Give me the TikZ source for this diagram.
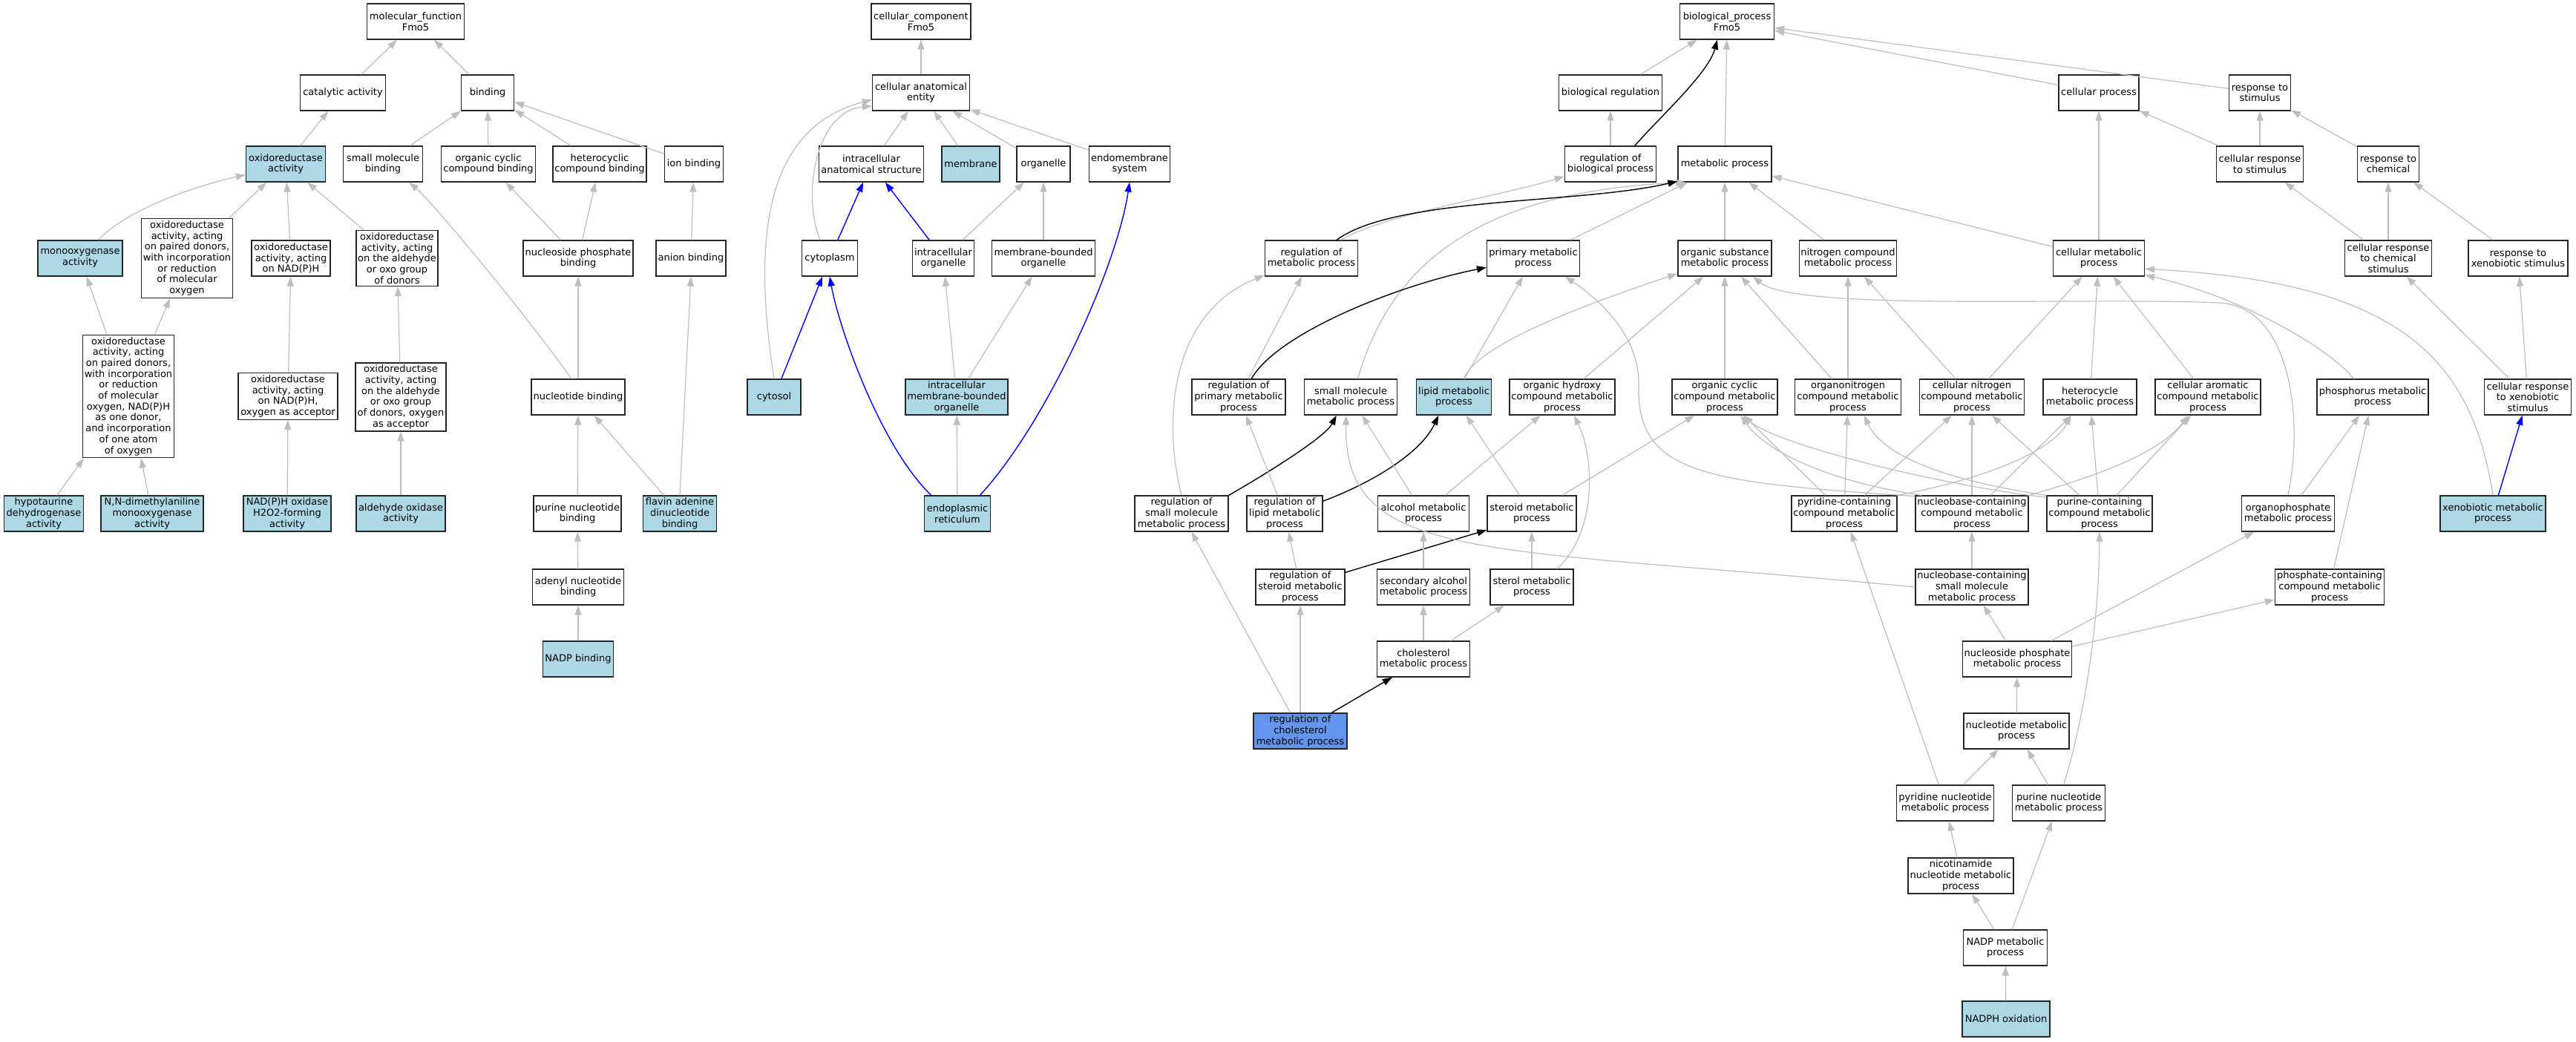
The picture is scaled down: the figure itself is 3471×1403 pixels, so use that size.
\documentclass[tikz,border=0pt]{standalone}
\usepackage{fontspec}
\setmainfont{DejaVu Sans}
\usepackage{tikz}
\usetikzlibrary{arrows.meta}
\definecolor{isagray}{HTML}{BEBEBE}
\definecolor{annotblue}{HTML}{ADD8E6}
\definecolor{queryblue}{HTML}{6495ED}
\newcommand{\gofont}{\fontsize{13pt}{14.7pt}\selectfont}
\tikzstyle{term} = [rectangle, draw=black!85, line width=1.3pt, fill=white, minimum height=48pt, inner xsep=1pt, inner ysep=3pt, align=center, text=black]
\tikzstyle{annot} = [term, fill=annotblue]
\tikzstyle{query} = [term, fill=queryblue]
\tikzstyle{isa} = [draw=isagray, line width=1.2pt, -{Triangle[length=13pt,width=9pt]}, isagray]
\tikzstyle{reg} = [draw=black, line width=1.4pt, -{Triangle[length=13pt,width=9pt]}, black]
\tikzstyle{partof} = [draw=blue, line width=1.4pt, -{Triangle[length=13pt,width=9pt]}, blue]

\begin{document}
\begin{tikzpicture}[x=1pt, y=-1pt, font=\gofont]

		\useasboundingbox (0,0) rectangle (3471,1403);
		\fill[white] (0,0) rectangle (3471,1403);

		% molecular function
		\node (mf) [term, minimum width=131pt] at (560,29) {molecular\_function\\Fmo5};
		\node (cat) [term, minimum width=115pt] at (462,125) {catalytic activity};
		\node (bind) [term, minimum width=71pt] at (657,125) {binding};
		\node (oxr) [annot, minimum width=107pt] at (385,221) {oxidoreductase\\activity};
		\node (smb) [term, minimum width=107pt] at (516,221) {small molecule\\binding};
		\node (ocb) [term, minimum width=127pt] at (658,221) {organic cyclic\\compound binding};
		\node (hcb) [term, minimum width=126pt] at (808,221) {heterocyclic\\compound binding};
		\node (ionb) [term, minimum width=79pt] at (935,221) {ion binding};
		\node (mono) [annot, minimum width=114pt] at (108,348) {monooxygenase\\activity};
		\node (oxpd) [term, minimum width=123pt] at (252,348) {oxidoreductase\\activity, acting\\on paired donors,\\with incorporation\\or reduction\\of molecular\\oxygen};
		\node (oxnadph) [term, minimum width=106pt] at (392,348) {oxidoreductase\\activity, acting\\on NAD(P)H};
		\node (oxald) [term, minimum width=110pt] at (535,348) {oxidoreductase\\activity, acting\\on the aldehyde\\or oxo group\\of donors};
		\node (npb) [term, minimum width=148pt] at (779,348) {nucleoside phosphate\\binding};
		\node (anb) [term, minimum width=94pt] at (931,348) {anion binding};
		\node (oxpd2) [term, minimum width=123pt] at (173,534) {oxidoreductase\\activity, acting\\on paired donors,\\with incorporation\\or reduction\\of molecular\\oxygen, NAD(P)H\\as one donor,\\and incorporation\\of one atom\\of oxygen};
		\node (oxnadph2) [term, minimum width=134pt] at (388,534) {oxidoreductase\\activity, acting\\on NAD(P)H,\\oxygen as acceptor};
		\node (oxald2) [term, minimum width=122pt] at (540,535) {oxidoreductase\\activity, acting\\on the aldehyde\\or oxo group\\of donors, oxygen\\as acceptor};
		\node (nucb) [term, minimum width=126pt] at (779,535) {nucleotide binding};
		\node (hypo) [annot, minimum width=107pt] at (59,692) {hypotaurine\\dehydrogenase\\activity};
		\node (nndm) [annot, minimum width=138pt] at (205,692) {N,N-dimethylaniline\\monooxygenase\\activity};
		\node (nadox) [annot, minimum width=118pt] at (387,692) {NAD(P)H oxidase\\H2O2-forming\\activity};
		\node (aldox) [annot, minimum width=120pt] at (540,692) {aldehyde oxidase\\activity};
		\node (purb) [term, minimum width=118pt] at (778,692) {purine nucleotide\\binding};
		\node (fadb) [annot, minimum width=99pt] at (916,692) {flavin adenine\\dinucleotide\\binding};
		\node (adnb) [term, minimum width=123pt] at (779,791) {adenyl nucleotide\\binding};
		\node (nadpb) [annot, minimum width=95pt] at (779,888) {NADP binding};

		% cellular component
		\node (cc) [term, minimum width=134pt] at (1241,29) {cellular\_component\\Fmo5};
		\node (cae) [term, minimum width=131pt] at (1241,125) {cellular anatomical\\entity};
		\node (ias) [term, minimum width=141pt] at (1174,221) {intracellular\\anatomical structure};
		\node (memb) [annot, minimum width=78pt] at (1308,221) {membrane};
		\node (org) [term, minimum width=72pt] at (1406,221) {organelle};
		\node (ems) [term, minimum width=109pt] at (1522,221) {endomembrane\\system};
		\node (cyto) [term, minimum width=75pt] at (1118,348) {cytoplasm};
		\node (iorg) [term, minimum width=83pt] at (1271,348) {intracellular\\organelle};
		\node (mbo) [term, minimum width=139pt] at (1406,348) {membrane-bounded\\organelle};
		\node (cytosol) [annot, minimum width=72pt] at (1043,535) {cytosol};
		\node (imbo) [annot, minimum width=138pt] at (1289,535) {intracellular\\membrane-bounded\\organelle};
		\node (er) [annot, minimum width=89pt] at (1290,692) {endoplasmic\\reticulum};

		% biological process
		\node (bp) [term, minimum width=127pt] at (2327,29) {biological\_process\\Fmo5};
		\node (breg) [term, minimum width=139pt] at (2170,125) {biological regulation};
		\node (cp) [term, minimum width=108pt] at (2828,125) {cellular process};
		\node (rts) [term, minimum width=83pt] at (3045,125) {response to\\stimulus};
		\node (rbp) [term, minimum width=123pt] at (2170,221) {regulation of\\biological process};
		\node (mp) [term, minimum width=126pt] at (2324,221) {metabolic process};
		\node (crs) [term, minimum width=117pt] at (3045,221) {cellular response\\to stimulus};
		\node (rtc) [term, minimum width=83pt] at (3218,221) {response to\\chemical};
		\node (rmp) [term, minimum width=125pt] at (1767,348) {regulation of\\metabolic process};
		\node (pmp) [term, minimum width=125pt] at (2066,348) {primary metabolic\\process};
		\node (osmp) [term, minimum width=126pt] at (2324,348) {organic substance\\metabolic process};
		\node (ncmp) [term, minimum width=131pt] at (2490,348) {nitrogen compound\\metabolic process};
		\node (cmp) [term, minimum width=123pt] at (2828,348) {cellular metabolic\\process};
		\node (crcs) [term, minimum width=117pt] at (3218,348) {cellular response\\to chemical\\stimulus};
		\node (rxs) [term, minimum width=134pt] at (3393,348) {response to\\xenobiotic stimulus};
		\node (rprim) [term, minimum width=126pt] at (1669,535) {regulation of\\primary metabolic\\process};
		\node (smmp) [term, minimum width=125pt] at (1820,535) {small molecule\\metabolic process};
		\node (lip) [annot, minimum width=101pt] at (1959,535) {lipid metabolic\\process};
		\node (ohc) [term, minimum width=142pt] at (2105,535) {organic hydroxy\\compound metabolic\\process};
		\node (occ) [term, minimum width=142pt] at (2324,535) {organic cyclic\\compound metabolic\\process};
		\node (onc) [term, minimum width=143pt] at (2490,535) {organonitrogen\\compound metabolic\\process};
		\node (cnc) [term, minimum width=141pt] at (2657,535) {cellular nitrogen\\compound metabolic\\process};
		\node (het) [term, minimum width=126pt] at (2816,535) {heterocycle\\metabolic process};
		\node (car) [term, minimum width=142pt] at (2975,535) {cellular aromatic\\compound metabolic\\process};
		\node (phos) [term, minimum width=150pt] at (3197,535) {phosphorus metabolic\\process};
		\node (crxs) [term, minimum width=117pt] at (3406,535) {cellular response\\to xenobiotic\\stimulus};
		\node (rsmmp) [term, minimum width=126pt] at (1592,692) {regulation of\\small molecule\\metabolic process};
		\node (rlip) [term, minimum width=102pt] at (1731,692) {regulation of\\lipid metabolic\\process};
		\node (alc) [term, minimum width=123pt] at (1918,692) {alcohol metabolic\\process};
		\node (ster) [term, minimum width=120pt] at (2064,692) {steroid metabolic\\process};
		\node (pyc) [term, minimum width=142pt] at (2485,692) {pyridine-containing\\compound metabolic\\process};
		\node (nbc) [term, minimum width=152pt] at (2657,692) {nucleobase-containing\\compound metabolic\\process};
		\node (puc) [term, minimum width=142pt] at (2829,692) {purine-containing\\compound metabolic\\process};
		\node (opp) [term, minimum width=125pt] at (3083,692) {organophosphate\\metabolic process};
		\node (xmp) [annot, minimum width=142pt] at (3359,692) {xenobiotic metabolic\\process};
		\node (rster) [term, minimum width=120pt] at (1752,791) {regulation of\\steroid metabolic\\process};
		\node (salc) [term, minimum width=125pt] at (1918,791) {secondary alcohol\\metabolic process};
		\node (sterol) [term, minimum width=112pt] at (2064,791) {sterol metabolic\\process};
		\node (nbsm) [term, minimum width=152pt] at (2657,791) {nucleobase-containing\\small molecule\\metabolic process};
		\node (pcc) [term, minimum width=147pt] at (3139,791) {phosphate-containing\\compound metabolic\\process};
		\node (chol) [term, minimum width=125pt] at (1918,888) {cholesterol\\metabolic process};
		\node (nspm) [term, minimum width=147pt] at (2718,888) {nucleoside phosphate\\metabolic process};
		\node (rchol) [query, minimum width=126pt] at (1752,985) {regulation of\\cholesterol\\metabolic process};
		\node (ntmp) [term, minimum width=142pt] at (2717,985) {nucleotide metabolic\\process};
		\node (pyn) [term, minimum width=131pt] at (2621,1082) {pyridine nucleotide\\metabolic process};
		\node (pun) [term, minimum width=125pt] at (2774,1082) {purine nucleotide\\metabolic process};
		\node (nic) [term, minimum width=142pt] at (2642,1180) {nicotinamide\\nucleotide metabolic\\process};
		\node (nadpm) [term, minimum width=113pt] at (2702,1277) {NADP metabolic\\process};
		\node (nadpho) [annot, minimum width=118pt] at (2703,1373) {NADPH oxidation};

		% molecular function edges
		\draw [isa] (cat) -- (mf);
		\draw [isa] (bind) -- (mf);
		\draw [isa] (oxr) -- (cat);
		\draw [isa] (smb) -- (bind);
		\draw [isa] (ocb) -- (bind);
		\draw [isa] (hcb) -- (bind);
		\draw [isa] (ionb) -- (bind);
		\draw [isa] (mono.45) .. controls (165,288) and (245,255) .. (oxr.195);
		\draw [isa] (oxpd) -- (oxr);
		\draw [isa] (oxnadph) -- (oxr);
		\draw [isa] (oxald) -- (oxr);
		\draw [isa] (npb) -- (ocb);
		\draw [isa] (npb) -- (hcb);
		\draw [isa] (anb) -- (ionb);
		\draw [isa] (oxpd2) -- (mono);
		\draw [isa] (oxpd2) -- (oxpd);
		\draw [isa] (oxnadph2) -- (oxnadph);
		\draw [isa] (oxald2) -- (oxald);
		\draw [isa] (nucb.110) .. controls +(-60,-85) and +(30,25) .. (smb.-35);
		\draw [isa] (nucb) -- (npb);
		\draw [isa] (hypo) -- (oxpd2);
		\draw [isa] (nndm) -- (oxpd2);
		\draw [isa] (nadox) -- (oxnadph2);
		\draw [isa] (aldox) -- (oxald2);
		\draw [isa] (purb) -- (nucb);
		\draw [isa] (fadb) -- (nucb);
		\draw [isa] (fadb.north) -- (anb.south);
		\draw [isa] (adnb) -- (purb);
		\draw [isa] (nadpb) -- (adnb);

		% cellular component edges
		\draw [isa] (cae) -- (cc);
		\draw [isa] (ias) -- (cae);
		\draw [isa] (memb) -- (cae);
		\draw [isa] (org) -- (cae);
		\draw [isa] (ems) -- (cae);
		\draw [isa] (cyto.118) .. controls (1080,260) and (1100,150) .. (cae.195);
		\draw [isa] (cytosol.north) .. controls (1010,300) and (1040,170) .. (cae.188);
		\draw [partof] (cyto) -- (ias);
		\draw [partof] (iorg) -- (ias);
		\draw [partof] (cytosol) -- (cyto);
		\draw [partof] (er.145) .. controls (1185,600) and (1130,440) .. (cyto.south);
		\draw [partof] (er.39) .. controls (1410,570) and (1505,360) .. (ems.south);
		\draw [isa] (iorg) -- (org);
		\draw [isa] (mbo) -- (org);
		\draw [isa] (imbo) -- (iorg);
		\draw [isa] (imbo) -- (mbo);
		\draw [isa] (er) -- (imbo);

		% biological process edges
		\draw [isa] (breg) -- (bp);
		\draw [reg] (rbp.37) .. controls +(35,-40) and +(-12,45) .. (bp.-118);
		\draw [isa] (mp) -- (bp);
		\draw [isa] (cp) -- (bp);
		\draw [isa] (rts) -- (bp);
		\draw [isa] (rbp) -- (breg);
		\draw [isa] (rmp.32) .. controls +(60,-35) and +(-80,25) .. (rbp.195);
		\draw [isa] (smmp.69) .. controls (1865,390) and (1950,260) .. (mp.205);
		\draw [reg] (rmp.36) .. controls (1880,265) and (2130,275) .. (mp.200);
		\draw [isa] (pmp) -- (mp);
		\draw [isa] (osmp) -- (mp);
		\draw [isa] (ncmp) -- (mp);
		\draw [isa] (cmp) -- (mp);
		\draw [isa] (cmp) -- (cp);
		\draw [isa] (crs) -- (cp);
		\draw [isa] (crs) -- (rts);
		\draw [isa] (rtc) -- (rts);
		\draw [isa] (crcs) -- (crs);
		\draw [isa] (crcs) -- (rtc);
		\draw [isa] (rxs) -- (rtc);
		\draw [isa] (crxs) -- (crcs);
		\draw [isa] (crxs) -- (rxs);
		\draw [partof] (xmp) -- (crxs);
		\draw [isa] (xmp.north) .. controls (3330,480) and (3230,380) .. (cmp.-13);
		\draw [isa] (phos.136) .. controls (3140,470) and (3020,400) .. (cmp.-20);
		\draw [isa] (rprim) -- (rmp);
		\draw [reg] (rprim.55) .. controls (1720,450) and (1880,385) .. (pmp.191);
		\draw [isa] (rsmmp.north) .. controls (1565,560) and (1580,420) .. (rmp.200);
		\draw [reg] (rsmmp.north east) .. controls (1700,642) and (1785,590) .. (smmp.-128);
		\draw [isa] (rlip) -- (rprim);
		\draw [reg] (rlip.18) .. controls (1850,650) and (1915,610) .. (lip.-130);
		\draw [isa] (rster) -- (rlip);
		\draw [reg] (rster.18) -- (ster.200);
		\draw [isa] (rchol) -- (rster);
		\draw [reg] (rchol) -- (chol);
		\draw [isa] (rchol) -- (rsmmp);
		\draw [isa] (lip) -- (pmp);
		\draw [isa] (lip.62) .. controls (1990,465) and (2130,412) .. (osmp.198);
		\draw [isa] (nbc.163) .. controls (2300,650) and (2205,640) .. (2208,520) .. controls (2210,450) and (2150,400) .. (pmp.-30);
		\draw [isa] (opp.north) .. controls (3105,560) and (3085,412) .. (2990,408) .. controls (2800,400) and (2420,420) .. (osmp.-33);
		\draw [isa] (alc) -- (smmp);
		\draw [isa] (alc) -- (ohc);
		\draw [isa] (ster) -- (lip);
		\draw [isa] (ster) -- (occ);
		\draw [isa] (ohc) -- (osmp);
		\draw [isa] (sterol.36) .. controls (2150,720) and (2150,620) .. (ohc.-57);
		\draw [isa] (sterol) -- (ster);
		\draw [isa] (chol) -- (sterol);
		\draw [isa] (chol) -- (salc);
		\draw [isa] (salc) -- (alc);
		\draw [isa] (nbsm.west) .. controls (2000,735) and (1810,760) .. (smmp.-104);
		\draw [isa] (occ) -- (osmp);
		\draw [isa] (onc) -- (osmp);
		\draw [isa] (onc) -- (ncmp);
		\draw [isa] (cnc) -- (ncmp);
		\draw [isa] (cnc) -- (cmp);
		\draw [isa] (het) -- (cmp);
		\draw [isa] (car) -- (cmp);
		\draw [isa] (pyc) -- (occ);
		\draw [isa] (nbc.160) .. controls (2470,650) and (2380,610) .. (occ.-49);
		\draw [isa] (puc.163) .. controls (2620,655) and (2395,600) .. (occ.-45);
		\draw [isa] (pyc) -- (onc);
		\draw [isa] (puc.north west) .. controls (2640,650) and (2540,620) .. (onc.-49);
		\draw [isa] (pyc) -- (cnc);
		\draw [isa] (pyc.north east) .. controls (2700,640) and (2770,600) .. (het.-136);
		\draw [isa] (nbc) -- (het);
		\draw [isa] (puc) -- (het);
		\draw [isa] (nbc) -- (cnc);
		\draw [isa] (puc) -- (cnc);
		\draw [isa] (nbc.north east) .. controls (2830,640) and (2910,610) .. (car.-137);
		\draw [isa] (puc) -- (car);
		\draw [isa] (pyn) -- (pyc);
		\draw [isa] (pun.75) .. controls (2805,980) and (2828,850) .. (puc.south);
		\draw [isa] (nbsm) -- (nbc);
		\draw [isa] (nspm) -- (nbsm);
		\draw [isa] (nspm) -- (opp);
		\draw [isa] (nspm) -- (pcc);
		\draw [isa] (opp) -- (phos);
		\draw [isa] (pcc) -- (phos);
		\draw [isa] (ntmp) -- (nspm);
		\draw [isa] (pyn) -- (ntmp);
		\draw [isa] (pun) -- (ntmp);
		\draw [isa] (nic) -- (pyn);
		\draw [isa] (nadpm) -- (nic);
		\draw [isa] (nadpm) -- (pun);
		\draw [isa] (nadpho) -- (nadpm);

\end{tikzpicture}
\end{document}
